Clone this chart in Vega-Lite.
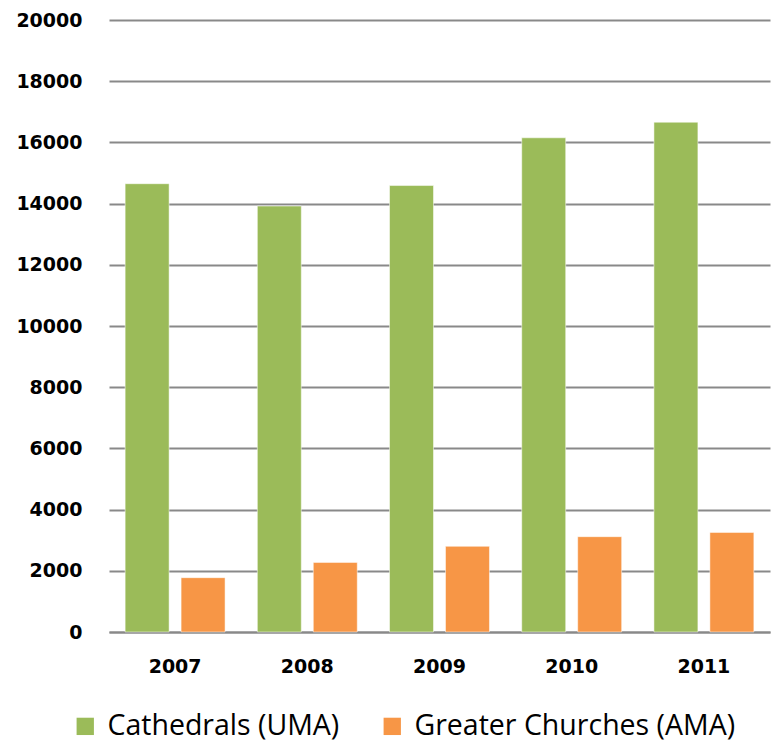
{
  "$schema": "https://vega.github.io/schema/vega-lite/v6.json",
  "width": 661,
  "height": 612,
  "autosize": "none",
  "padding": {"left": 109, "top": 20, "right": 2, "bottom": 110},
  "background": "white",
  "data": {
    "values": [
      {"year": "2007", "series": "Cathedrals (UMA)", "value": 14650},
      {"year": "2007", "series": "Greater Churches (AMA)", "value": 1775},
      {"year": "2008", "series": "Cathedrals (UMA)", "value": 13920},
      {"year": "2008", "series": "Greater Churches (AMA)", "value": 2275},
      {"year": "2009", "series": "Cathedrals (UMA)", "value": 14590},
      {"year": "2009", "series": "Greater Churches (AMA)", "value": 2800},
      {"year": "2010", "series": "Cathedrals (UMA)", "value": 16150},
      {"year": "2010", "series": "Greater Churches (AMA)", "value": 3115},
      {"year": "2011", "series": "Cathedrals (UMA)", "value": 16660},
      {"year": "2011", "series": "Greater Churches (AMA)", "value": 3255}
    ]
  },
  "mark": {"type": "bar", "stroke": "white", "strokeOpacity": 0.5, "strokeWidth": 1},
  "encoding": {
    "x": {
      "field": "year",
      "type": "nominal",
      "scale": {"paddingInner": 0.244, "paddingOuter": 0.122},
      "axis": {
        "title": null,
        "labelAngle": 0,
        "domain": true,
        "domainColor": "#898989",
        "domainWidth": 2,
        "ticks": false,
        "tickSize": 0,
        "labelFont": "DejaVu Sans",
        "labelFontWeight": "bold",
        "labelFontSize": 19,
        "labelColor": "#000000",
        "labelPadding": 25
      }
    },
    "xOffset": {
      "field": "series",
      "type": "nominal",
      "scale": {"paddingInner": 0.214, "paddingOuter": 0}
    },
    "y": {
      "field": "value",
      "type": "quantitative",
      "scale": {"domain": [0, 20000], "nice": false},
      "axis": {
        "title": null,
        "values": [0, 2000, 4000, 6000, 8000, 10000, 12000, 14000, 16000, 18000, 20000],
        "format": "d",
        "grid": true,
        "gridColor": "#898989",
        "gridWidth": 2,
        "domain": false,
        "ticks": false,
        "tickSize": 0,
        "labelFont": "DejaVu Sans",
        "labelFontWeight": "bold",
        "labelFontSize": 19,
        "labelColor": "#000000",
        "labelPadding": 27
      }
    },
    "color": {
      "field": "series",
      "type": "nominal",
      "scale": {
        "domain": ["Cathedrals (UMA)", "Greater Churches (AMA)"],
        "range": ["#9BBB59", "#F79646"]
      },
      "legend": {
        "title": null,
        "orient": "none",
        "legendX": -38,
        "legendY": 692,
        "direction": "horizontal",
        "padding": 0,
        "symbolType": "square",
        "symbolSize": 300,
        "symbolStrokeWidth": 0,
        "symbolOpacity": 1,
        "labelFont": "Open Sans",
        "labelFontSize": 28.5,
        "labelColor": "#000000",
        "labelOffset": 8,
        "columnPadding": 38,
        "labelLimit": 400
      }
    }
  },
  "config": {"view": {"stroke": null}}
}
